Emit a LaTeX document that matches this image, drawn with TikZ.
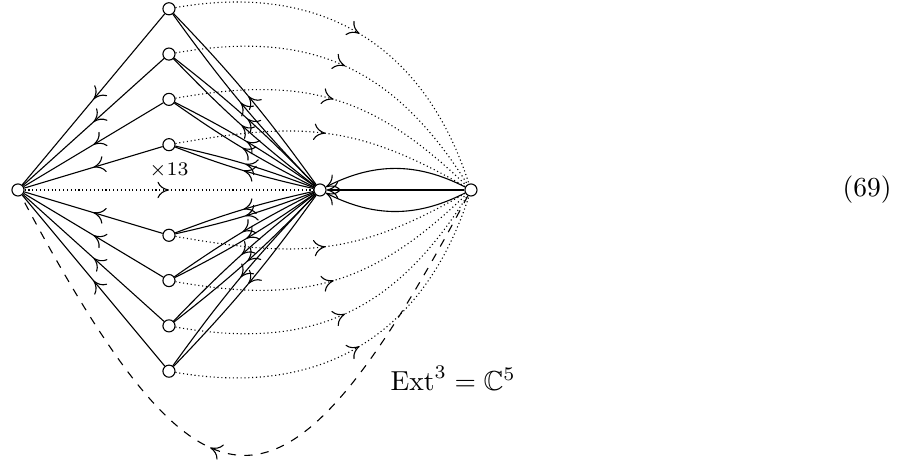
\documentclass[tikz,border=0pt]{standalone}
\usepackage{amssymb}
\usepackage{amsmath}
\usetikzlibrary{arrows.meta,positioning,decorations.markings}

\begin{document}
\begin{tikzpicture}[x=1.93cm, y=1.93cm,
  vert/.style={draw, circle, inner sep=0pt, minimum size=4.4pt},
  midarrow/.style={postaction={decorate}, decoration={markings,
      mark=at position #1 with {\arrow{>}}}},
  midarrow/.default=0.5,
  >={Computer Modern Rightarrow[length=4.2pt, width=6pt]}
]
  \path[use as bounding box] (-0.119,-1.808) rectangle (5.934,1.258);

  \node[vert] (l) at (0,0) {};
  \node[vert] (c) at (2,0) {};
  \node[vert] (r) at (3,0) {};
  \foreach \k in {1,...,4} {
    \node[vert] (u\k) at (1, 0.3*\k) {};
    \node[vert] (d\k) at (1,-0.3*\k) {};
  }

  \foreach \k in {1,...,4} {
    \pgfmathtruncatemacro\ang{164-14*\k}
    \draw[midarrow] (u\k) -- (l);
    \draw[midarrow] (d\k) -- (l);
    \draw[midarrow] (c) to[bend left=4] (u\k);
    \draw[midarrow] (c) to[bend right=4] (u\k);
    \draw[midarrow] (c) to[bend left=4] (d\k);
    \draw[midarrow] (c) to[bend right=4] (d\k);
    \draw[densely dotted, midarrow] (u\k) to[out=10, in=\ang, looseness=1.1] (r);
    \draw[densely dotted, midarrow] (d\k) to[out=-10, in=-\ang, looseness=1.1] (r);
  }

  \draw[->] (r) -- (c);
  \draw[->] (r) to[bend right=27] (c);
  \draw[->] (r) to[bend left=27] (c);

  \draw[densely dotted, midarrow] (l) -- node[above=1pt, font=\scriptsize] (times) {$\times 13$} (c);
  \draw[dashed, midarrow=0.55] (r) to[out=-118, in=-62, looseness=2.25] (l);

  \node[anchor=west] (ext) at (2.404,-1.245) {$\operatorname{Ext}^3=\mathbb{C}^5$};
  \node (eqno) at (5.623,0) {(69)};
\end{tikzpicture}
\end{document}
